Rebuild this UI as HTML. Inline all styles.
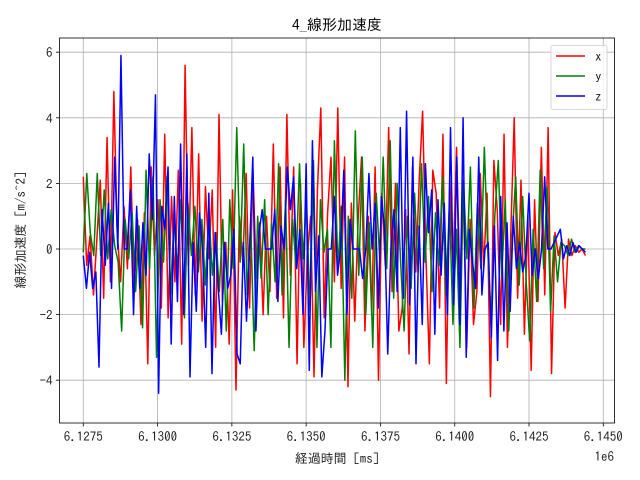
<!DOCTYPE html>
<html><head><meta charset="utf-8">
<style>
html,body{margin:0;padding:0;background:#fff;}
svg{display:block;font-family:"IPAGothic","Noto Sans CJK JP",sans-serif;}
</style></head>
<body>
<svg id="chart" width="640" height="480"></svg>
<script>
const startTime = 6127500;
const endTime = 6144400;
const xTicks = [6127500, 6130000, 6132500, 6135000, 6137500, 6140000, 6142500, 6145000];
const xTickLabels = ["6.1275","6.1300","6.1325","6.1350","6.1375","6.1400","6.1425","6.1450"];
const yTicks = [-4, -2, 0, 2, 4, 6];
const yTickLabels = ["-4","-2","0","2","4","6"];
const seriesNames = ["x","y","z"];
const seriesX = [2.2,-0.5,0.4,-1.4,0.3,2.1,-1.5,3.4,-1.0,4.8,0.5,-1.0,1.3,-0.6,2.5,-1.3,0.9,-2.3,1.1,-3.5,2.5,-0.2,1.5,-1.8,3.5,-2.1,1.6,-1.0,2.4,-2.9,5.6,-0.5,3.7,-1.4,2.9,-2.2,1.9,-0.3,1.8,-3.0,4.1,-1.6,0.2,-2.9,1.8,-4.3,1.0,-0.4,2.3,-1.8,2.4,-0.9,0.8,-2.0,1.0,-1.3,3.2,-1.5,2.5,-2.1,4.1,-0.8,2.5,-3.5,2.0,-3.0,-0.3,1.0,-3.9,1.8,4.3,-2.1,1.1,2.8,-1.0,4.3,-1.2,2.8,-4.2,1.4,-2.2,0.9,2.8,-2.5,1.0,-2.0,2.5,-4.0,1.7,-0.5,3.7,-1.3,2.0,-2.5,-1.8,1.2,-3.2,2.5,-0.7,2.1,4.2,-0.3,-3.5,2.4,1.7,-1.8,3.5,-4.1,2.1,-0.6,3.1,-1.1,1.8,-3.0,0.9,-2.3,-1.3,2.3,-0.6,1.7,-4.5,2.7,1.2,-2.3,3.5,-3.0,0.5,4.0,-1.5,2.1,-2.6,1.0,-3.7,1.5,-1.6,3.1,-1.4,3.7,-3.8,0.5,-0.2,0.3,-1.8,0.3,-0.2,0.1,-0.1,0.0,-0.2];
const seriesY = [-0.1,2.3,0.5,-0.2,2.3,-0.2,1.8,-0.3,1.2,0.1,-0.4,-2.5,0.9,-0.3,1.1,-1.3,0.7,-2.4,2.4,-0.6,2.2,-3.3,1.5,-0.4,2.2,-1.4,0.9,-0.6,1.5,-2.1,1.4,-0.2,1.3,-0.7,0.9,-1.1,1.2,-0.8,0.5,-1.3,0.9,-2.5,1.5,-0.6,3.7,-0.4,3.2,-1.4,0.8,-3.1,1.0,-0.9,1.5,-2.0,0.8,-1.0,2.6,-1.4,1.5,-3.0,0.9,-0.5,2.6,-0.3,1.4,-1.9,2.7,-3.0,1.5,-0.1,0.6,-3.0,3.3,-0.6,1.3,-4.0,1.0,-1.5,3.6,-0.8,2.8,-2.0,0.8,-3.0,1.7,-0.3,2.8,-0.6,3.3,-1.5,2.0,-0.4,-2.5,1.0,-1.2,1.7,-0.7,2.6,-0.4,1.6,-1.3,1.1,-0.5,2.2,-1.4,1.4,-2.3,0.6,-3.0,2.1,-0.3,2.5,-1.8,1.4,-0.6,3.1,-0.1,-2.2,1.0,2.7,-0.8,1.5,-2.5,0.4,2.2,-1.1,1.6,-1.0,-2.8,0.6,-1.6,2.4,-0.6,1.9,-1.9,0.4,-1.0,0.2,0.1,-0.2,0.3,-0.1,0.1,0.0,0.0];
const seriesZ = [-0.2,-1.2,-0.1,-1.2,-0.7,-3.6,1.2,-0.5,1.4,-1.2,2.8,0.0,5.9,0.0,0.0,1.8,-2.0,1.3,-1.2,0.8,-0.8,2.9,0.9,4.7,-4.4,1.3,0.6,2.5,-2.9,1.6,-1.6,3.2,-2.0,2.9,-3.9,0.2,-1.9,1.1,0.0,-3.0,1.7,-3.8,0.5,-1.2,-2.6,0.2,-1.2,-0.8,0.6,-3.2,-3.5,0.2,-2.2,0.0,2.8,-2.5,0.5,1.2,0.0,0.0,0.0,1.2,-1.6,0.7,0.0,2.5,1.2,2.2,-0.6,0.6,-2.0,2.6,-3.7,3.3,-1.3,0.4,-3.9,-2.5,0.0,0.0,1.6,-0.8,0.0,2.4,-2.0,0.9,0.0,0.0,0.0,-0.9,0.0,2.3,0.0,1.4,-1.8,1.6,0.6,-3.2,0.0,1.2,-1.3,3.7,-1.5,4.2,-1.7,2.8,-3.5,0.7,-2.3,2.6,0.5,1.8,-2.6,1.5,-0.8,1.4,-2.0,3.7,-1.7,2.8,-2.3,4.0,-3.3,0.6,-0.4,-1.2,2.8,-1.4,0.0,0.2,-2.7,0.7,-3.4,1.6,-2.5,0.8,-1.9,1.0,-0.6,0.2,-0.7,-0.2,1.7,-0.8,0.0,-0.9,0.0,2.2,0.0,0.0,0.2,0.4,0.6,-0.3,0.1,-0.2,0.2,-0.1,0.1,0.0,-0.1];
const seriesData = [seriesX, seriesY, seriesZ];
const seriesColors = ["#ff0000","#008000","#0000ff"];

const L=59.5, R=614.5, T=38, B=423;
const xPx0=83.3, xPx1=603.3, xV0=6127500, xV1=6145000;
function xScale(v){return xPx0+(v-xV0)*(xPx1-xPx0)/(xV1-xV0);}
function yScale(v){return 249-v*32.8;}
const NS="http://www.w3.org/2000/svg";
const svg=document.getElementById('chart');
function mk(tag,attrs,parent){const e=document.createElementNS(NS,tag);for(const k in attrs)e.setAttribute(k,attrs[k]);(parent||svg).appendChild(e);return e;}

xTicks.forEach((t,i)=>{
  const x=xScale(t);
  const g=mk('line',{x1:x,x2:x,y1:T,y2:B,stroke:'#b0b0b0','stroke-width':0.8});
  
  
  const tk=mk('line',{x1:x,x2:x,y1:B,y2:B+3.5,stroke:'#000','stroke-width':0.8});
  
  
  const lb=mk('text',{x:x,y:B+18,'text-anchor':'middle','font-size':13,fill:'#222'});
  lb.textContent=xTickLabels[i];
  
  
});
yTicks.forEach((t,i)=>{
  const y=yScale(t);
  const g=mk('line',{x1:L,x2:R,y1:y,y2:y,stroke:'#b0b0b0','stroke-width':0.8});
  
  
  const tk=mk('line',{x1:L-3.5,x2:L,y1:y,y2:y,stroke:'#000','stroke-width':0.8});
  
  
  const lb=mk('text',{x:L-7,y:y+5,'text-anchor':'end','font-size':13,fill:'#222'});
  lb.textContent=yTickLabels[i];
  
  
});

seriesData.forEach((vals,si)=>{
  const n=vals.length;
  const pts=vals.map((v,i)=>{const t=startTime+(endTime-startTime)*i/(n-1);return xScale(t).toFixed(2)+','+yScale(v).toFixed(2);}).join(' ');
  const p=mk('polyline',{points:pts,fill:'none',stroke:seriesColors[si],'stroke-width':1.5,'stroke-linejoin':'round'});
  
  
});

const fr=mk('rect',{x:L,y:T,width:R-L,height:B-T,fill:'none',stroke:'#000','stroke-width':0.8});



const lg=mk('g',{});


mk('rect',{x:551,y:45.5,width:56,height:64,rx:2,fill:'#fff','fill-opacity':0.8,stroke:'#ccc','stroke-width':0.8},lg);
seriesNames.forEach((nm,i)=>{
  const y=56+i*20;
  const e=mk('g',{},lg);
  
  
  mk('line',{x1:556,x2:585,y1:y,y2:y,stroke:seriesColors[i],'stroke-width':1.5},e);
  const t=mk('text',{x:595,y:y+5,'font-size':13,fill:'#222'},e);
  t.textContent=nm;
});

const title=mk('text',{x:337,y:30,'text-anchor':'middle','font-size':15,fill:'#000'});
title.textContent='4_線形加速度';


const xl=mk('text',{x:337,y:463,'text-anchor':'middle','font-size':13,fill:'#222'});
xl.textContent='経過時間 [ms]';


const yl=mk('text',{x:0,y:0,'text-anchor':'middle','font-size':13,fill:'#222',transform:'translate(25,230) rotate(-90)'});
yl.textContent='線形加速度 [m/s^2]';


const off=mk('text',{x:614,y:461,'text-anchor':'end','font-size':13,fill:'#222'});
off.textContent='1e6';


</script>
</body></html>
